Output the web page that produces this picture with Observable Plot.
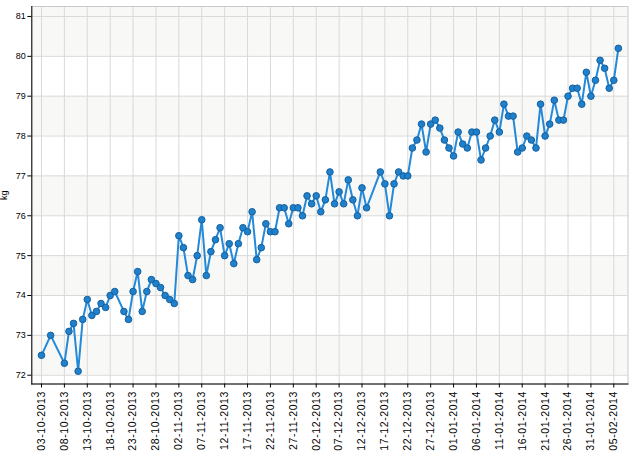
<!DOCTYPE html>
<html>
<head>
<meta charset="utf-8">
<script src="https://cdn.jsdelivr.net/npm/d3@7"></script>
<script src="https://cdn.jsdelivr.net/npm/@observablehq/plot@0.6"></script>
<style>
  html, body { margin: 0; padding: 0; background: #fff; }
  #chart { width: 639px; height: 467px; }
</style>
</head>
<body>
<div id="chart"></div>
<script>
const dates = [
  "2013-10-03","2013-10-05","2013-10-08","2013-10-09","2013-10-10","2013-10-11","2013-10-12","2013-10-13",
  "2013-10-14","2013-10-15","2013-10-16","2013-10-17","2013-10-18","2013-10-19","2013-10-21","2013-10-22",
  "2013-10-23","2013-10-24","2013-10-25","2013-10-26","2013-10-27","2013-10-28","2013-10-29","2013-10-30",
  "2013-10-31","2013-11-01","2013-11-02","2013-11-03","2013-11-04","2013-11-05","2013-11-06","2013-11-07",
  "2013-11-08","2013-11-09","2013-11-10","2013-11-11","2013-11-12","2013-11-13","2013-11-14","2013-11-15",
  "2013-11-16","2013-11-17","2013-11-18","2013-11-19","2013-11-20","2013-11-21","2013-11-22","2013-11-23",
  "2013-11-24","2013-11-25","2013-11-26","2013-11-27","2013-11-28","2013-11-29","2013-11-30","2013-12-01",
  "2013-12-02","2013-12-03","2013-12-04","2013-12-05","2013-12-06","2013-12-07","2013-12-08","2013-12-09",
  "2013-12-10","2013-12-11","2013-12-12","2013-12-13","2013-12-16","2013-12-17","2013-12-18","2013-12-19",
  "2013-12-20","2013-12-21","2013-12-22","2013-12-23","2013-12-24","2013-12-25","2013-12-26","2013-12-27",
  "2013-12-28","2013-12-29","2013-12-30","2013-12-31","2014-01-01","2014-01-02","2014-01-03","2014-01-04",
  "2014-01-05","2014-01-06","2014-01-07","2014-01-08","2014-01-09","2014-01-10","2014-01-11","2014-01-12",
  "2014-01-13","2014-01-14","2014-01-15","2014-01-16","2014-01-17","2014-01-18","2014-01-19","2014-01-20",
  "2014-01-21","2014-01-22","2014-01-23","2014-01-24","2014-01-25","2014-01-26","2014-01-27","2014-01-28",
  "2014-01-29","2014-01-30","2014-01-31","2014-02-01","2014-02-02","2014-02-03","2014-02-04","2014-02-05",
  "2014-02-06"
];
const weights = [
  72.5,73.0,72.3,73.1,73.3,72.1,73.4,73.9,
  73.5,73.6,73.8,73.7,74.0,74.1,73.6,73.4,
  74.1,74.6,73.6,74.1,74.4,74.3,74.2,74.0,
  73.9,73.8,75.5,75.2,74.5,74.4,75.0,75.9,
  74.5,75.1,75.4,75.7,75.0,75.3,74.8,75.3,
  75.7,75.6,76.1,74.9,75.2,75.8,75.6,75.6,
  76.2,76.2,75.8,76.2,76.2,76.0,76.5,76.3,
  76.5,76.1,76.4,77.1,76.3,76.6,76.3,76.9,
  76.4,76.0,76.7,76.2,77.1,76.8,76.0,76.8,
  77.1,77.0,77.0,77.7,77.9,78.3,77.6,78.3,
  78.4,78.2,77.9,77.7,77.5,78.1,77.8,77.7,
  78.1,78.1,77.4,77.7,78.0,78.4,78.1,78.8,
  78.5,78.5,77.6,77.7,78.0,77.9,77.7,78.8,
  78.0,78.3,78.9,78.4,78.4,79.0,79.2,79.2,
  78.8,79.6,79.0,79.4,79.9,79.7,79.2,79.4,
  80.2
];
const xTicks = [
  "2013-10-03","2013-10-08","2013-10-13","2013-10-18","2013-10-23","2013-10-28",
  "2013-11-02","2013-11-07","2013-11-12","2013-11-17","2013-11-22","2013-11-27",
  "2013-12-02","2013-12-07","2013-12-12","2013-12-17","2013-12-22","2013-12-27",
  "2014-01-01","2014-01-06","2014-01-11","2014-01-16","2014-01-21","2014-01-26",
  "2014-01-31","2014-02-05"
];
const yTicks = [72,73,74,75,76,77,78,79,80,81];
const bandLow = [72,74,76,78,80];
const yLabel = "kg";

const parse = d3.utcParse("%Y-%m-%d");
const data = dates.map((d, i) => ({date: parse(d), weight: weights[i]}));
const tickDates = xTicks.map(parse);

const DAY = 864e5;
const start = parse(dates[0]).getTime();
const xDomain = [new Date(start - 2.12 * DAY), new Date(start + 128.1 * DAY)];
const yDomain = [71.78, 81.25];
const bands = bandLow.map(lo => ({y1: lo, y2: lo + 1 >= 81 ? yDomain[1] : lo + 1}));

const chart = Plot.plot({
  width: 639,
  height: 467,
  marginLeft: 31.3,
  marginRight: 11.5,
  marginTop: 6,
  marginBottom: 83.5,
  style: {fontFamily: "'Liberation Sans', Arial, sans-serif", fontSize: "10.5px", background: "#fff", color: "#000"},
  x: {type: "utc", domain: xDomain},
  y: {domain: yDomain},
  marks: [
    Plot.rectY(bands, {x1: xDomain[0], x2: xDomain[1], y1: "y1", y2: "y2", fill: "#f8f8f6"}),
    Plot.gridX(tickDates, {stroke: "#d9d9d9", strokeOpacity: 1, strokeWidth: 1}),
    Plot.gridY(yTicks, {stroke: "#d9d9d9", strokeOpacity: 1, strokeWidth: 1}),
    Plot.frame({stroke: "#c8c8c8"}),
    Plot.frame({anchor: "left", stroke: "#000"}),
    Plot.frame({anchor: "bottom", stroke: "#000"}),
    Plot.axisY(yTicks, {tickSize: 4, tickPadding: 2, label: yLabel, labelAnchor: "center", labelArrow: "none", labelOffset: 31, fontSize: 9}),
    Plot.axisX(tickDates, {tickSize: 4, tickPadding: 3, tickRotate: -90, tickFormat: d3.utcFormat("%d-%m-%Y"), label: null}),
    Plot.line(data, {x: "date", y: "weight", stroke: "#2389d8", strokeWidth: 2}),
    Plot.dot(data, {x: "date", y: "weight", r: 3.3, fill: "#1f80cc", stroke: "#16609e", strokeWidth: 1})
  ]
});
d3.select(chart).selectAll("g[aria-label='x-axis tick label'] text").attr("letter-spacing", "0.6px");
document.getElementById("chart").appendChild(chart);
</script>
</body>
</html>
